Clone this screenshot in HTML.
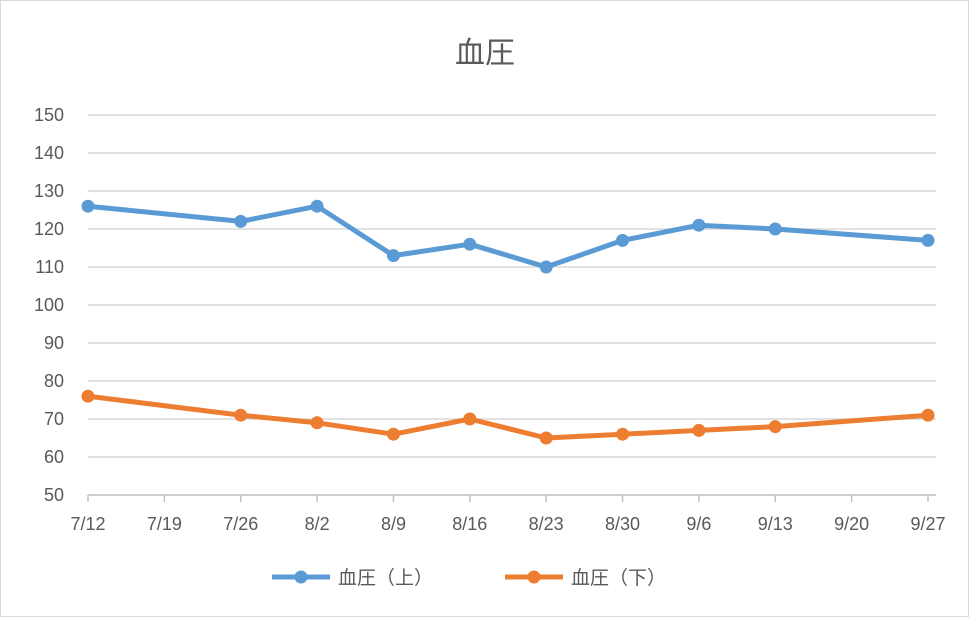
<!DOCTYPE html>
<html><head><meta charset="utf-8">
<style>
body{margin:0;background:#fff;}
svg{display:block;font-family:"Liberation Sans","Noto Sans CJK JP",sans-serif;}
</style></head>
<body>
<svg id="chart" width="970" height="620" viewBox="0 0 970 620">
<rect x="0.5" y="0.5" width="968" height="616" fill="#fff" stroke="#d9d9d9"/>
<text x="485" y="63" text-anchor="middle" font-size="30" fill="#595959">血圧</text>
<g id="grid"></g><g id="axes"></g><g id="series"></g>
<g>
<g>
<line x1="272" y1="577" x2="330" y2="577" stroke="#5b9bd5" stroke-width="5"/>
<circle cx="301" cy="577" r="6.5" fill="#5b9bd5"/>
<text x="338" y="584" font-size="19" fill="#595959">血圧（上）</text></g>
<g>
<line x1="505" y1="577" x2="563" y2="577" stroke="#ed7d31" stroke-width="5"/>
<circle cx="534" cy="577" r="6.5" fill="#ed7d31"/>
<text x="571" y="584" font-size="19" fill="#595959">血圧（下）</text></g>
</g>
</svg>
<script>
const dateLabels=["7/12","7/19","7/26","8/2","8/9","8/16","8/23","8/30","9/6","9/13","9/20","9/27"];
const pointDays=[0,14,21,28,35,42,49,56,63,77];
const upperValues=[126,122,126,113,116,110,117,121,120,117];
const lowerValues=[76,71,69,66,70,65,66,67,68,71];
const yTicks=[50,60,70,80,90,100,110,120,130,140,150];
const NS="http://www.w3.org/2000/svg";
const x0=88,x1=928,y0=495,y1=115;
function xs(d){return x0+(x1-x0)*d/77;}
function ys(v){return y0-(y0-y1)*(v-50)/100;}
function mk(tag,attrs,parent){const e=document.createElementNS(NS,tag);for(const k in attrs)e.setAttribute(k,attrs[k]);parent.appendChild(e);return e;}
const grid=document.getElementById('grid'),axes=document.getElementById('axes'),series=document.getElementById('series');
yTicks.forEach(v=>{
  if(v>50){const l=mk('line',{x1:x0,x2:x1+8,y1:ys(v),y2:ys(v),stroke:'#d9d9d9','stroke-width':1.5},grid);
  
  }
  const t=mk('text',{x:64,y:ys(v)+6,'text-anchor':'end','font-size':18,fill:'#595959'},axes);
  t.textContent=v;
  
  
});
const ax=mk('line',{x1:x0,x2:x1+8,y1:y0,y2:y0,stroke:'#bfbfbf','stroke-width':1.5},axes);


dateLabels.forEach((s,i)=>{
  const x=xs(i*7);
  const tk=mk('line',{x1:x,x2:x,y1:y0,y2:y0+7,stroke:'#bfbfbf','stroke-width':1.5},axes);
  
  
  const t=mk('text',{x:x,y:530,'text-anchor':'middle','font-size':18,fill:'#595959'},axes);
  t.textContent=s;
  
  
});
function drawSeries(vals,color,name){
  const pts=vals.map((v,i)=>xs(pointDays[i])+','+ys(v)).join(' ');
  const pl=mk('polyline',{points:pts,fill:'none',stroke:color,'stroke-width':5,'stroke-linejoin':'round'},series);
  
  
  vals.forEach((v,i)=>{
    const c=mk('circle',{cx:xs(pointDays[i]),cy:ys(v),r:6.5,fill:color},series);
    
    
  });
}
drawSeries(upperValues,'#5b9bd5','upper-bp');
drawSeries(lowerValues,'#ed7d31','lower-bp');
</script>
</body></html>
